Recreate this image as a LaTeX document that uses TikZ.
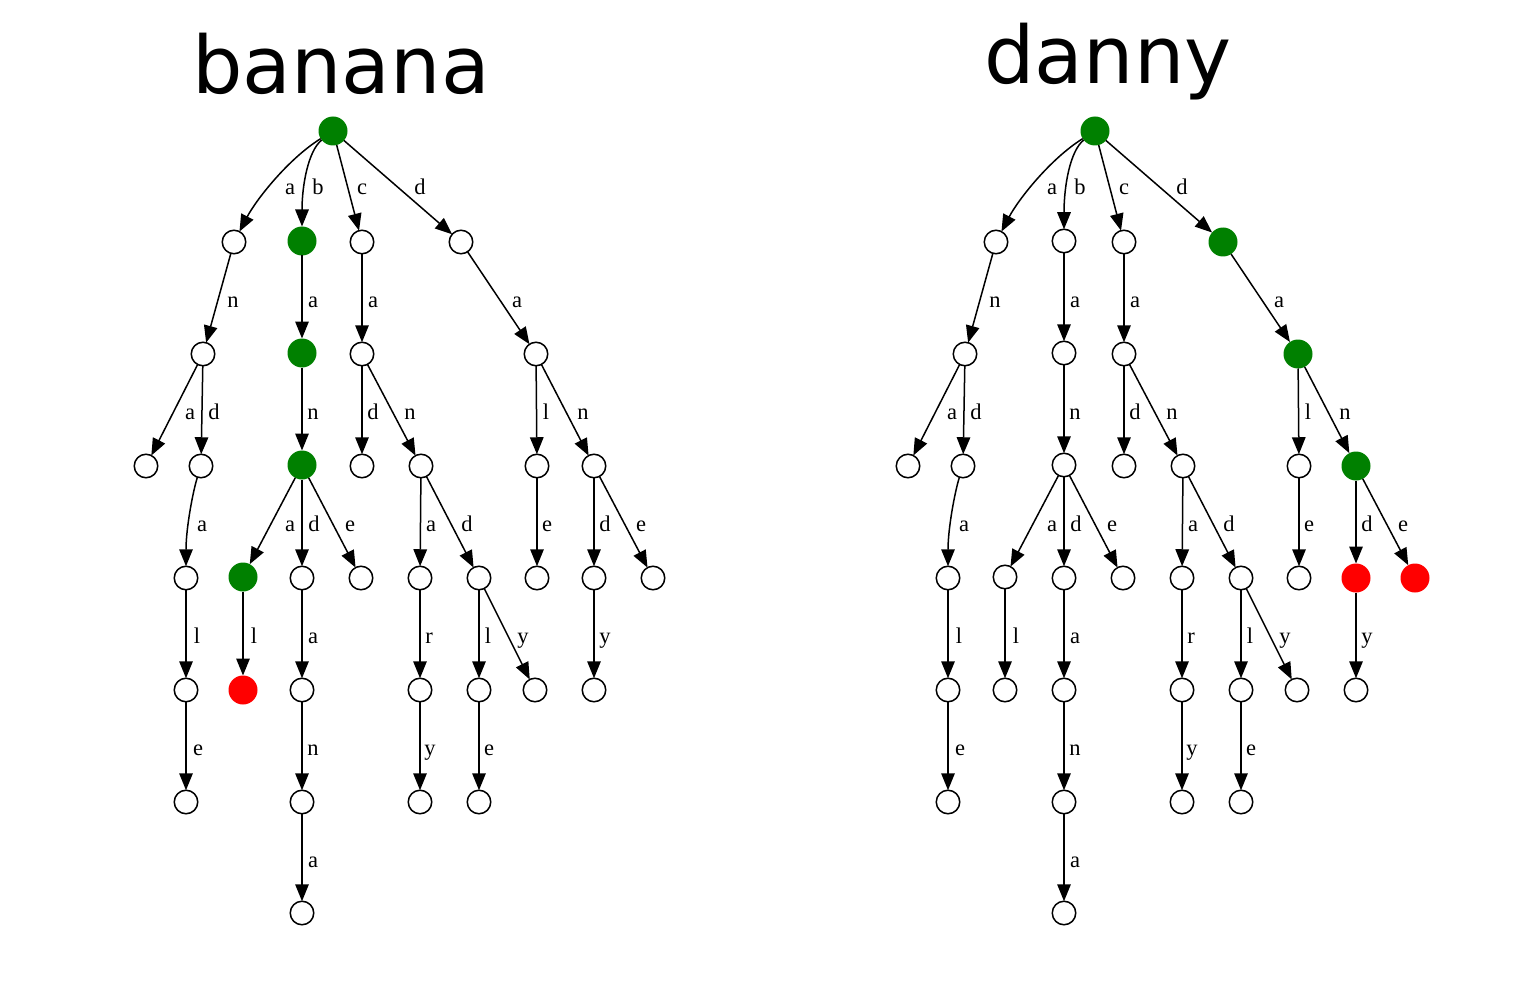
\documentclass[tikz,border=0pt]{standalone}
\usepackage{fontspec}
\setmainfont{Liberation Serif}
\newfontfamily\titlefont{DejaVu Sans}
\usetikzlibrary{arrows.meta}
\definecolor{gvgreen}{RGB}{0,128,0}
\definecolor{gvred}{RGB}{255,0,0}
\tikzset{
  vtx/.style={circle, draw=black, line width=1.5pt, fill=white, minimum size=23.5pt, inner sep=0pt, outer sep=0pt},
  hot/.style={draw=none, fill=gvgreen, minimum size=29pt},
  cold/.style={draw=none, fill=gvred, minimum size=29pt},
  trieedge/.style={line width=1.5pt, -{Triangle[length=17pt,width=13.5pt]}},
  triel/.style={anchor=base, inner sep=0pt, font=\fontsize{22.5}{26}\selectfont},
  titletext/.style={anchor=base, inner sep=0pt, font=\titlefont\fontsize{79.5}{90}\selectfont},
  s-b/.style={}, s-ba/.style={}, s-ban/.style={}, s-bana/.style={}, s-banal/.style={},
  s-d/.style={}, s-da/.style={}, s-dan/.style={}, s-dand/.style={}, s-dane/.style={}
}
\newcommand\trieBody{%
  % nodes
  \node[vtx,hot] (root) at (333,131) {};
  \node[vtx] (a) at (234,242) {};
  \node[vtx,s-b] (b) at (302,241) {};
  \node[vtx] (c) at (362,242) {};
  \node[vtx,s-d] (d) at (461,242) {};
  \node[vtx] (an) at (203,354) {};
  \node[vtx,s-ba] (ba) at (302,353) {};
  \node[vtx] (ca) at (362,354) {};
  \node[vtx,s-da] (da) at (536,354) {};
  \node[vtx] (ana) at (146,466) {};
  \node[vtx] (and) at (201,466) {};
  \node[vtx,s-ban] (ban) at (302,465) {};
  \node[vtx] (cad) at (362,466) {};
  \node[vtx] (can) at (421,466) {};
  \node[vtx] (dal) at (537,466) {};
  \node[vtx,s-dan] (dan) at (594,466) {};
  \node[vtx] (anda) at (186,578) {};
  \node[vtx,s-bana] (bana) at (243,577) {};
  \node[vtx] (band) at (302,578) {};
  \node[vtx] (bane) at (361,578) {};
  \node[vtx] (cana) at (420,578) {};
  \node[vtx] (cand) at (479,578) {};
  \node[vtx] (dale) at (537,578) {};
  \node[vtx,s-dand] (dand) at (594,578) {};
  \node[vtx,s-dane] (dane) at (653,578) {};
  \node[vtx] (andal) at (186,690) {};
  \node[vtx,s-banal] (banal) at (243,690) {};
  \node[vtx] (banda) at (302,690) {};
  \node[vtx] (canar) at (420,690) {};
  \node[vtx] (candl) at (479,690) {};
  \node[vtx] (candy) at (535,690) {};
  \node[vtx] (dandy) at (594,690) {};
  \node[vtx] (andale) at (186,802) {};
  \node[vtx] (bandan) at (302,802) {};
  \node[vtx] (canary) at (420,802) {};
  \node[vtx] (candle) at (479,802) {};
  \node[vtx] (bandana) at (302,913) {};
  % edges
  \draw[trieedge] (root) .. controls +(-45,28) and +(22,-42) .. (a);
  \draw[trieedge] (root) .. controls +(-25,20) and +(0,-55) .. (b);
  \draw[trieedge] (root) -- (c);
  \draw[trieedge] (root) -- (d);
  \draw[trieedge] (a) -- (an);
  \draw[trieedge] (b) -- (ba);
  \draw[trieedge] (c) -- (ca);
  \draw[trieedge] (d) -- (da);
  \draw[trieedge] (an) -- (ana);
  \draw[trieedge] (an) -- (and);
  \draw[trieedge] (ba) -- (ban);
  \draw[trieedge] (ca) -- (cad);
  \draw[trieedge] (ca) -- (can);
  \draw[trieedge] (da) -- (dal);
  \draw[trieedge] (da) -- (dan);
  \draw[trieedge] (and) .. controls +(-8,25) and +(0,-50) .. (anda);
  \draw[trieedge] (ban) -- (bana);
  \draw[trieedge] (ban) -- (band);
  \draw[trieedge] (ban) -- (bane);
  \draw[trieedge] (can) -- (cana);
  \draw[trieedge] (can) -- (cand);
  \draw[trieedge] (dal) -- (dale);
  \draw[trieedge] (dan) -- (dand);
  \draw[trieedge] (dan) -- (dane);
  \draw[trieedge] (anda) -- (andal);
  \draw[trieedge] (bana) -- (banal);
  \draw[trieedge] (band) -- (banda);
  \draw[trieedge] (cana) -- (canar);
  \draw[trieedge] (cand) -- (candl);
  \draw[trieedge] (cand) -- (candy);
  \draw[trieedge] (dand) -- (dandy);
  \draw[trieedge] (andal) -- (andale);
  \draw[trieedge] (banda) -- (bandan);
  \draw[trieedge] (canar) -- (canary);
  \draw[trieedge] (candl) -- (candle);
  \draw[trieedge] (bandan) -- (bandana);
  % labels
  \node[triel] (l1a) at (290,195) {a};
  \node[triel] (l1b) at (318,195) {b};
  \node[triel] (l1c) at (362,195) {c};
  \node[triel] (l1d) at (420,195) {d};
  \node[triel] (l2n) at (233,307) {n};
  \node[triel] (l2a) at (313,307) {a};
  \node[triel] (l2b) at (373,307) {a};
  \node[triel] (l2c) at (517,307) {a};
  \node[triel] (l3a) at (190,419) {a};
  \node[triel] (l3d) at (214,419) {d};
  \node[triel] (l3n) at (313,419) {n};
  \node[triel] (l3e) at (373,419) {d};
  \node[triel] (l3f) at (410,419) {n};
  \node[triel] (l3l) at (546,419) {l};
  \node[triel] (l3m) at (583,419) {n};
  \node[triel] (l4a) at (202,531) {a};
  \node[triel] (l4b) at (290,531) {a};
  \node[triel] (l4c) at (314,531) {d};
  \node[triel] (l4d) at (350,531) {e};
  \node[triel] (l4e) at (431,531) {a};
  \node[triel] (l4f) at (467,531) {d};
  \node[triel] (l4g) at (547,531) {e};
  \node[triel] (l4h) at (605,531) {d};
  \node[triel] (l4i) at (641,531) {e};
  \node[triel] (l5a) at (197,643) {l};
  \node[triel] (l5b) at (254,643) {l};
  \node[triel] (l5c) at (313,643) {a};
  \node[triel] (l5d) at (429,643) {r};
  \node[triel] (l5e) at (488,643) {l};
  \node[triel] (l5f) at (523,643) {y};
  \node[triel] (l5g) at (605,643) {y};
  \node[triel] (l6a) at (198,755) {e};
  \node[triel] (l6b) at (313,755) {n};
  \node[triel] (l6c) at (430,755) {y};
  \node[triel] (l6d) at (489,755) {e};
  \node[triel] (l7a) at (313,867) {a};
}
\begin{document}
\begin{tikzpicture}[x=1pt, y=-1pt]
  \useasboundingbox (0,0) rectangle (1528,984);
  \node[titletext] (t1) at (341,94) {banana};
  \node[titletext] (t2) at (1108,84) {danny};
  \begin{scope}[name prefix=L-, s-b/.style=hot, s-ba/.style=hot, s-ban/.style=hot, s-bana/.style=hot, s-banal/.style=cold]
    \trieBody
  \end{scope}
  \begin{scope}[name prefix=R-, shift={(762,0)}, s-d/.style=hot, s-da/.style=hot, s-dan/.style=hot, s-dand/.style=cold, s-dane/.style=cold]
    \trieBody
  \end{scope}
\end{tikzpicture}
\end{document}
